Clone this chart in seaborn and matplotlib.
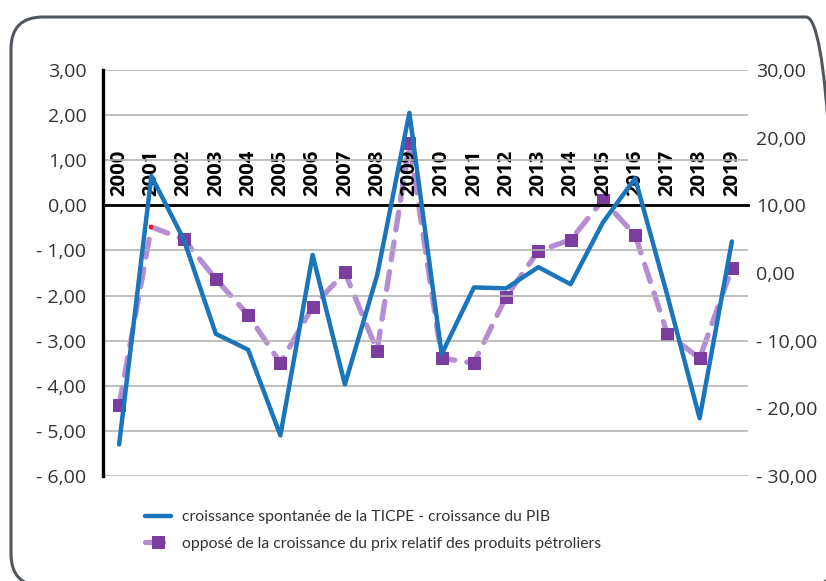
import pandas as pd
import matplotlib.pyplot as plt
import seaborn as sns
from matplotlib.patches import FancyBboxPatch
from matplotlib.ticker import FuncFormatter, MultipleLocator

# Données
annees = [str(a) for a in range(2000, 2020)]
ticpe_pib = [-5.3, 0.65, -0.75, -2.85, -3.2, -5.1, -1.1, -3.97, -1.55, 2.05,
             -3.3, -1.82, -1.84, -1.37, -1.75, -0.38, 0.6, -2.0, -4.72, -0.8]
prix_petrole = [-19.5, 6.8, 5.0, -0.9, -6.2, -13.3, -5.0, 0.1, -11.5, 19.2,
                -12.6, -13.3, -3.5, 3.25, 4.9, 10.8, 5.6, -9.0, -12.6, 0.7]

label_bleu = "croissance spontanée de la TICPE - croissance du PIB"
label_violet = "opposé de la croissance du prix relatif des produits pétroliers"

df = pd.DataFrame({"annee": annees, "ticpe": ticpe_pib, "prix": prix_petrole})
df["x"] = range(len(df))

sns.set_theme(style="white")
plt.rcParams["font.family"] = ["Open Sans", "DejaVu Sans"]

bleu = "#1b75bb"
violet_clair = "#b48dd2"
violet = "#7b3c9f"
gris = "#b4b4b4"
W, H = 826, 581


def fmt(v, pos):
    s = f"{abs(v):.2f}".replace(".", ",")
    return ("- " + s) if v < -1e-9 else s


fig = plt.figure(figsize=(W / 100, H / 100), dpi=100)
ax = fig.add_axes([103 / W, 1 - 476 / H, 645 / W, 406 / H])
ax2 = ax.twinx()

# Cadre arrondi (coupé à droite et en bas)
cadre = FancyBboxPatch((11 / W, -5 / H), 827 / W, 569 / H,
                       boxstyle=f"round,pad=0,rounding_size={32 / W}",
                       mutation_aspect=W / H,
                       transform=fig.transFigure, fill=False,
                       edgecolor="#50565e", linewidth=2.2)
fig.patches.append(cadre)

sns.lineplot(data=df, x="x", y="ticpe", ax=ax, color=bleu, linewidth=3.2,
             legend=False, zorder=3)
sns.lineplot(data=df, x="x", y="prix", ax=ax2, color=violet_clair, linewidth=3.8,
             marker="s", markersize=8.5, markerfacecolor=violet, markeredgecolor=violet,
             markevery=[i for i in range(len(df)) if i != 1],
             legend=False, zorder=2)
ligne = ax2.lines[0]
ligne.set_dashes((3.4, 2.3))
ligne.set_dash_capstyle("round")
# petit point rouge de 2001
sns.scatterplot(x=[1], y=[prix_petrole[1]], ax=ax2, color="#e8202a", marker="s",
                s=12, linewidth=0, zorder=4, legend=False)

ax.set_xlim(-0.5, 19.5)
ax.set_ylim(-6, 3)
ax2.set_ylim(-30, 30)
ax.yaxis.set_major_locator(MultipleLocator(1))
ax2.yaxis.set_major_locator(MultipleLocator(10))
ax.yaxis.set_major_formatter(FuncFormatter(fmt))
ax2.yaxis.set_major_formatter(FuncFormatter(fmt))

ax.grid(axis="y", color=gris, linewidth=1.2)
ax.set_axisbelow(True)
ax.set_zorder(ax2.get_zorder() + 1)
ax.patch.set_visible(False)

# axe des années sur la ligne zéro
ax.spines["top"].set_position(("data", 0))
ax.spines["top"].set_color("black")
ax.spines["top"].set_linewidth(2)
ax.spines["left"].set_color("black")
ax.spines["left"].set_linewidth(2.4)
ax.spines["bottom"].set_visible(False)
ax.spines["right"].set_visible(False)
for s in ax2.spines.values():
    s.set_visible(False)

ax.set_xticks(df["x"])
ax.set_xticklabels(annees, rotation=90, fontweight="bold", fontsize=14.6, color="black")
ax.tick_params(axis="x", bottom=False, top=False, length=0, labelbottom=False,
               labeltop=True, pad=7)
ax.tick_params(axis="y", left=False, length=0, labelsize=14, labelcolor="#333333", pad=12)
ax2.tick_params(axis="y", right=False, length=0, labelsize=14, labelcolor="#333333", pad=6)
ax.set_xlabel("")
ax.set_ylabel("")
ax2.set_ylabel("")
ax2.set_xlabel("")
if ax2.get_legend() is not None:
    ax2.get_legend().remove()

h1 = ax.lines[0]
h2 = ax2.lines[0]
fig.legend([h1, h2], [label_bleu, label_violet], loc="upper left",
           bbox_to_anchor=(131 / W, 1 - 496 / H), frameon=False,
           prop={"family": ["Lato", "DejaVu Sans"], "size": 11.3},
           handlelength=1.65, handletextpad=0.7, labelspacing=0.8,
           labelcolor="#333333")

plt.savefig("out.png", dpi=100)
